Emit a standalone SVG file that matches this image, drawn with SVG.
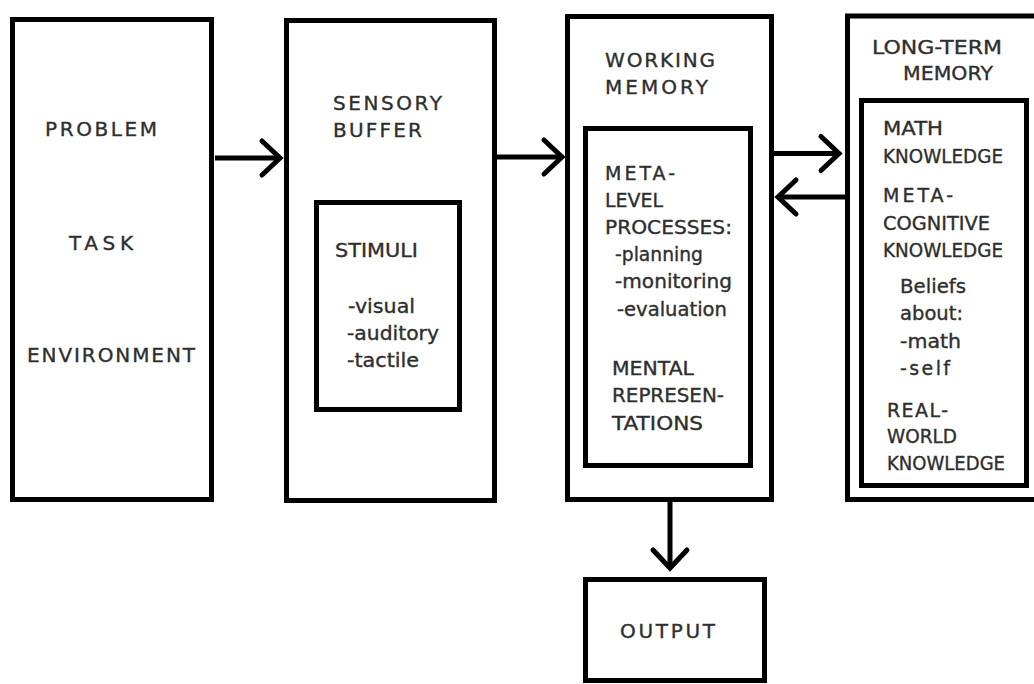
<svg xmlns="http://www.w3.org/2000/svg" width="1034" height="684" viewBox="0 0 1034 684">
<style>
.box{fill:none;stroke:#000;stroke-width:5}
.con{fill:none;stroke:#000;stroke-width:5}
text{font-family:"DejaVu Sans","Liberation Sans",sans-serif;fill:#2e2e2e;stroke:#2e2e2e;stroke-width:0.35}
.h{font-size:20px}
.b{font-size:19px}
</style>
<defs>
<marker id="chev" markerUnits="userSpaceOnUse" markerWidth="40" markerHeight="40" viewBox="-30 -20 40 40" refX="0" refY="0" orient="auto" overflow="visible">
<path d="M-18,-17 L0,0 L-18,17" fill="none" stroke="#000" stroke-width="5" stroke-linecap="round" stroke-linejoin="miter"/>
</marker>
</defs>
<rect width="1034" height="684" fill="#fff"/>
<g id="problem-task-environment">
<rect class="box" x="12.5" y="19.5" width="199" height="480"/>
<text class="h" x="45" y="136" textLength="112" lengthAdjust="spacing">PROBLEM</text>
<text class="h" x="69" y="250" textLength="64" lengthAdjust="spacing">TASK</text>
<text class="h" x="27" y="362" textLength="168" lengthAdjust="spacing">ENVIRONMENT</text>
</g>
<g id="sensory-buffer">
<rect class="box" x="286.5" y="20.5" width="208" height="480"/>
<text class="h" x="333" y="110" textLength="109" lengthAdjust="spacing">SENSORY</text>
<text class="h" x="333" y="137" textLength="89" lengthAdjust="spacing">BUFFER</text>
</g>
<g id="stimuli">
<rect class="box" x="316.5" y="202.5" width="143" height="207"/>
<text class="b" x="335" y="257" textLength="83" lengthAdjust="spacingAndGlyphs">STIMULI</text>
<text class="b" x="348" y="313" textLength="67" lengthAdjust="spacingAndGlyphs">-visual</text>
<text class="b" x="347" y="340" textLength="92" lengthAdjust="spacingAndGlyphs">-auditory</text>
<text class="b" x="347" y="367" textLength="72" lengthAdjust="spacingAndGlyphs">-tactile</text>
</g>
<g id="working-memory">
<rect class="box" x="567.5" y="16.5" width="204" height="483"/>
<text class="h" x="605" y="67" textLength="110" lengthAdjust="spacing">WORKING</text>
<text class="h" x="605" y="94" textLength="103" lengthAdjust="spacing">MEMORY</text>
</g>
<g id="meta-level-processes">
<rect class="box" x="585.5" y="128.5" width="165" height="337"/>
<text class="b" x="605" y="180" textLength="70" lengthAdjust="spacing">META-</text>
<text class="b" x="605" y="207" textLength="58" lengthAdjust="spacingAndGlyphs">LEVEL</text>
<text class="b" x="605" y="234" textLength="127" lengthAdjust="spacingAndGlyphs">PROCESSES:</text>
<text class="b" x="615" y="261" textLength="88" lengthAdjust="spacingAndGlyphs">-planning</text>
<text class="b" x="615" y="288" textLength="117" lengthAdjust="spacingAndGlyphs">-monitoring</text>
<text class="b" x="617" y="316" textLength="110" lengthAdjust="spacingAndGlyphs">-evaluation</text>
<text class="b" x="612" y="375" textLength="82" lengthAdjust="spacingAndGlyphs">MENTAL</text>
<text class="b" x="612" y="402" textLength="112" lengthAdjust="spacingAndGlyphs">REPRESEN-</text>
<text class="b" x="612" y="430" textLength="91" lengthAdjust="spacingAndGlyphs">TATIONS</text>
</g>
<g id="long-term-memory">
<rect class="box" x="847.5" y="16" width="200" height="483.5"/>
<text class="h" x="872" y="54" textLength="130" lengthAdjust="spacingAndGlyphs">LONG-TERM</text>
<text class="h" x="903" y="80" textLength="90" lengthAdjust="spacingAndGlyphs">MEMORY</text>
</g>
<g id="knowledge">
<rect class="box" x="861.5" y="100.5" width="165" height="385"/>
<text class="b" x="883" y="135" textLength="60" lengthAdjust="spacingAndGlyphs">MATH</text>
<text class="b" x="883" y="163" textLength="120" lengthAdjust="spacingAndGlyphs">KNOWLEDGE</text>
<text class="b" x="883" y="202" textLength="70" lengthAdjust="spacing">META-</text>
<text class="b" x="883" y="230" textLength="107" lengthAdjust="spacingAndGlyphs">COGNITIVE</text>
<text class="b" x="883" y="257" textLength="120" lengthAdjust="spacingAndGlyphs">KNOWLEDGE</text>
<text class="b" x="900" y="293" textLength="66" lengthAdjust="spacingAndGlyphs">Beliefs</text>
<text class="b" x="900" y="320" textLength="63" lengthAdjust="spacingAndGlyphs">about:</text>
<text class="b" x="900" y="348" textLength="61" lengthAdjust="spacingAndGlyphs">-math</text>
<text class="b" x="900" y="375" textLength="50" lengthAdjust="spacing">-self</text>
<text class="b" x="887" y="417" textLength="61" lengthAdjust="spacing">REAL-</text>
<text class="b" x="887" y="443" textLength="70" lengthAdjust="spacingAndGlyphs">WORLD</text>
<text class="b" x="887" y="470" textLength="118" lengthAdjust="spacingAndGlyphs">KNOWLEDGE</text>
</g>
<g id="output">
<rect class="box" x="585.5" y="579.5" width="179" height="101"/>
<text class="h" x="620" y="638" textLength="95" lengthAdjust="spacing">OUTPUT</text>
</g>
<g id="connectors">
<line class="con" x1="215" y1="158" x2="280" y2="158" marker-end="url(#chev)"/>
<line class="con" x1="497" y1="157" x2="562" y2="157" marker-end="url(#chev)"/>
<line class="con" x1="774" y1="153.5" x2="839" y2="153.5" marker-end="url(#chev)"/>
<line class="con" x1="845" y1="197" x2="778" y2="197" marker-end="url(#chev)"/>
<line class="con" x1="670" y1="502" x2="670" y2="568" marker-end="url(#chev)"/>
</g>
</svg>
